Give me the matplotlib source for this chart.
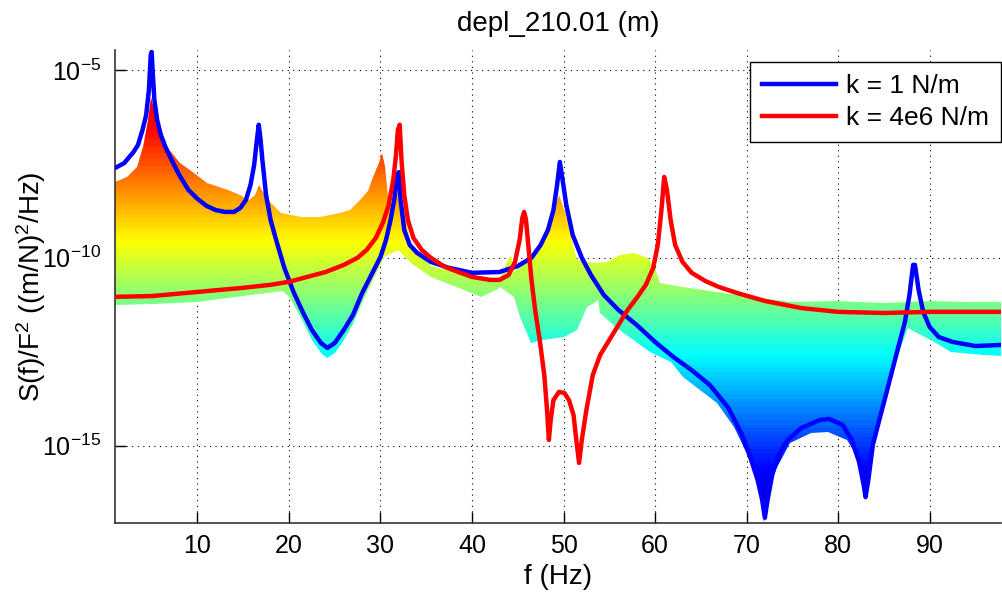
import numpy as np
import matplotlib
matplotlib.use('Agg')
import matplotlib.pyplot as plt
from matplotlib.patches import Polygon
from matplotlib.colors import Normalize, LinearSegmentedColormap

plt.rcParams['font.family'] = ['Liberation Sans', 'DejaVu Sans']
plt.rcParams['mathtext.fontset'] = 'custom'
plt.rcParams['mathtext.rm'] = 'Liberation Sans'
plt.rcParams['mathtext.it'] = 'Liberation Sans:italic'

# k = 1 N/m  (frequency in Hz, log10 of S/F^2)
blue_f = [1.0, 2.0, 3.0, 3.5, 4.0, 4.4, 4.7, 4.9, 5.0, 5.1, 5.3, 5.6, 6.0, 6.5, 7.0, 8.0,
          9.0, 10.0, 11.0, 12.0, 13.0, 14.0, 14.7, 15.3, 15.8, 16.2, 16.5, 16.7, 16.9,
          17.1, 17.5, 18.0, 18.7, 19.5, 20.5, 21.5, 22.5, 23.5, 24.2, 25.0, 26.0, 27.0,
          28.0, 29.0, 30.0, 30.6, 31.1, 31.5, 31.8, 32.0, 32.2, 32.6, 33.2, 34.0, 35.5,
          37.5, 40.0, 43.0, 45.0, 46.5, 47.5, 48.3, 48.9, 49.3, 49.6, 49.9, 50.3, 51.0,
          52.0, 53.0, 54.4, 56.0, 58.0, 60.0, 62.0, 64.0, 66.0, 68.0, 69.5, 70.5, 71.2,
          71.7, 72.0, 72.3, 72.8, 73.5, 74.5, 76.0, 78.0, 79.0, 80.5, 81.5, 82.3, 82.8,
          83.0, 83.3, 83.8, 84.5, 85.5, 86.5, 87.3, 87.8, 88.2, 88.4, 88.8, 89.3, 90.0,
          91.0, 92.5, 95.0, 97.8]
blue_exp = [-7.61, -7.48, -7.19, -7.00, -6.60, -6.20, -5.53, -4.60, -4.52, -5.00, -5.80,
            -6.33, -6.73, -7.05, -7.31, -7.79, -8.19, -8.43, -8.62, -8.73, -8.78, -8.78,
            -8.67, -8.46, -8.06, -7.53, -6.86, -6.46, -6.86, -7.40, -8.33, -9.00, -9.61,
            -10.27, -10.91, -11.44, -11.92, -12.27, -12.40, -12.27, -11.92, -11.52,
            -10.94, -10.46, -9.98, -9.53, -9.00, -8.46, -7.80, -7.72, -8.46, -9.26, -9.66,
            -9.87, -10.11, -10.27, -10.40, -10.38, -10.22, -10.00, -9.66, -9.26, -8.73,
            -8.06, -7.45, -7.93, -8.59, -9.39, -10.00, -10.46, -10.99, -11.39, -11.79,
            -12.24, -12.64, -12.99, -13.39, -13.99, -14.71, -15.38, -15.91, -16.44,
            -16.92, -16.44, -15.78, -15.25, -14.85, -14.53, -14.32, -14.29, -14.45,
            -14.85, -15.44, -16.05, -16.37, -15.92, -14.98, -14.32, -13.39, -12.45,
            -11.71, -10.99, -10.19, -10.19, -10.86, -11.44, -11.84, -12.11, -12.24,
            -12.35, -12.32]

# k = 4e6 N/m
red_f = [1.0, 5.0, 10.0, 15.0, 18.0, 20.0, 22.0, 24.0, 26.0, 27.5, 28.5, 29.5, 30.3, 30.9,
         31.4, 31.7, 31.9, 32.1, 32.3, 32.6, 33.0, 33.6, 34.5, 35.5, 37.0, 38.5, 40.0,
         42.0, 43.0, 44.0, 44.7, 45.2, 45.5, 45.7, 45.9, 46.2, 46.5, 46.9, 47.4, 47.9,
         48.2, 48.4, 48.6, 48.9, 49.5, 50.1, 50.6, 51.1, 51.4, 51.7, 52.0, 52.5, 53.2,
         54.0, 55.0, 56.0, 57.0, 58.0, 59.0, 59.8, 60.3, 60.7, 61.0, 61.3, 61.7, 62.2,
         63.0, 64.0, 65.5, 67.0, 69.0, 72.0, 76.0, 80.0, 85.0, 90.0, 97.8]
red_exp = [-11.04, -11.02, -10.91, -10.80, -10.72, -10.64, -10.51, -10.38, -10.19, -10.00,
           -9.79, -9.47, -9.05, -8.59, -7.93, -7.26, -6.60, -6.46, -7.40, -8.33, -9.00,
           -9.47, -9.79, -10.00, -10.24, -10.38, -10.51, -10.59, -10.59, -10.46, -10.11,
           -9.53, -8.94, -8.78, -8.99, -9.79, -10.59, -11.39, -12.19, -13.12, -14.05,
           -14.85, -14.32, -13.79, -13.57, -13.60, -13.79, -14.19, -14.85, -15.46,
           -14.85, -14.05, -13.12, -12.59, -12.19, -11.79, -11.39, -11.07, -10.72,
           -10.27, -9.66, -8.73, -7.85, -8.19, -8.99, -9.66, -10.11, -10.40, -10.62,
           -10.78, -10.94, -11.15, -11.34, -11.44, -11.47, -11.44, -11.44]

# envelope of the intermediate stiffness values
upper_f = [1.0, 2.3, 3.4, 4.1, 4.6, 4.9, 5.2, 5.6, 6.2, 6.7, 7.5, 8.1, 9.6, 11.0, 12.0,
           13.3, 14.7, 15.6, 16.3, 16.7, 17.2, 18.0, 19.1, 21.3, 23.4, 25.6, 26.7, 27.8,
           28.6, 29.2, 29.8, 30.2, 30.5, 30.9, 31.4, 31.9, 32.3, 33.3, 35.5, 38.0, 41.0,
           43.1, 44.0, 44.3, 44.6, 45.5, 47.0, 48.5, 49.5, 50.3, 51.0, 51.5, 53.3, 54.8,
           56.2, 57.7, 59.2, 60.0, 60.5, 63.1, 66.8, 71.5, 75.0, 80.0, 85.0, 90.0, 94.0,
           97.8]
upper_exp = [-7.98, -7.85, -7.58, -7.05, -6.33, -5.72, -5.93, -6.25, -6.73, -7.05, -7.31,
             -7.48, -7.74, -8.01, -8.09, -8.19, -8.33, -8.46, -8.33, -8.06, -8.25, -8.54,
             -8.81, -8.91, -8.91, -8.81, -8.73, -8.46, -8.22, -7.85, -7.47, -7.21, -7.55,
             -8.65, -8.46, -7.74, -8.46, -9.66, -10.22, -10.38, -10.51, -10.54, -10.01,
             -9.93, -10.38, -10.19, -9.79, -9.13, -8.33, -8.86, -9.66, -10.06, -10.14,
             -10.11, -9.93, -9.87, -10.01, -10.27, -10.67, -10.78, -10.91, -11.07, -11.18,
             -11.15, -11.20, -11.15, -11.18, -11.18]
lower_f = [1.0, 5.0, 10.0, 15.0, 19.4, 20.0, 20.5, 21.5, 22.5, 23.5, 24.2, 25.0, 26.0,
           27.0, 28.0, 29.0, 30.0, 30.4, 31.9, 33.3, 35.5, 39.1, 41.0, 42.8, 43.1, 44.6,
           45.3, 46.4, 47.8, 50.0, 51.5, 52.6, 53.3, 53.8, 54.0, 55.9, 59.5, 61.7, 63.1,
           66.8, 68.6, 70.4, 71.5, 71.9, 72.3, 73.0, 74.8, 77.0, 78.9, 81.0, 82.5, 83.0,
           83.6, 85.2, 86.6, 87.6, 88.6, 90.1, 92.3, 95.9, 97.8]
lower_exp = [-11.26, -11.23, -11.18, -11.02, -10.88, -11.04, -11.26, -11.71, -12.19,
             -12.53, -12.67, -12.53, -12.19, -11.76, -11.20, -10.70, -10.22, -9.98, -9.79,
             -10.14, -10.51, -10.86, -11.04, -10.83, -10.78, -11.04, -11.58, -12.27,
             -12.19, -12.11, -11.92, -11.31, -11.20, -11.12, -11.47, -11.90, -12.51,
             -12.77, -13.17, -13.87, -14.50, -15.38, -16.18, -17.03, -16.45, -15.73,
             -14.93, -14.66, -14.64, -14.85, -15.46, -16.45, -15.25, -13.84, -12.59,
             -11.87, -12.00, -12.19, -12.51, -12.59, -12.61]

xmin, xmax = 1.0, 97.8
ymin_exp, ymax_exp = -17.06, -4.47

# colour levels of the fill (log10 value -> colour), jet-like
level_exp = [-17.06, -15.65, -12.6, -11.1, -9.55, -6.5, -4.47]
level_col = [(0, 0, 0.85), (0, 0, 1), (0, 1, 1), (0.5, 1, 0.5), (1, 1, 0), (1, 0, 0), (0.8, 0, 0)]
pos = [(e - ymin_exp) / (ymax_exp - ymin_exp) for e in level_exp]
cmap = LinearSegmentedColormap.from_list('fill', list(zip(pos, level_col)), N=110)

fig = plt.figure(figsize=(10.03, 5.96), dpi=100)
ax = fig.add_axes([0.1147, 0.1225, 0.8833, 0.7936])
ax.set_yscale('log')

edges = np.linspace(ymin_exp, ymax_exp, 400)
centers = 0.5 * (edges[1:] + edges[:-1])
mesh = ax.pcolormesh([xmin, xmax], 10.0 ** edges, centers[:, None], cmap=cmap,
                     norm=Normalize(ymin_exp, ymax_exp), shading='flat', zorder=1,
                     rasterized=True)
verts = list(zip(upper_f, 10.0 ** np.array(upper_exp))) + \
        list(zip(lower_f[::-1], 10.0 ** np.array(lower_exp[::-1])))
env = Polygon(verts, closed=True, facecolor='none', edgecolor='none',
              transform=ax.transData)
ax.add_patch(env)
mesh.set_clip_path(env)

ax.plot(blue_f, 10.0 ** np.array(blue_exp), color=(0, 0, 1), lw=3.2, label='k = 1 N/m', zorder=3)
ax.plot(red_f, 10.0 ** np.array(red_exp), color=(1, 0, 0), lw=3.2, label='k = 4e6 N/m', zorder=3)

ax.set_xlim(xmin, xmax)
ax.set_ylim(10 ** ymin_exp, 10 ** ymax_exp)
ax.set_xticks(np.arange(10, 100, 10))
ax.set_yticks([1e-15, 1e-10, 1e-5])
ax.yaxis.set_minor_locator(matplotlib.ticker.NullLocator())
ax.tick_params(direction='in', length=8, width=1, labelsize=18, colors='black')
ax.tick_params(axis='x', pad=8)
ax.tick_params(axis='y', pad=10)
ax.grid(True, linestyle=(0, (1, 4)), color='black', lw=0.8)
ax.set_axisbelow(True)
for side in ['top', 'right']:
    ax.spines[side].set_visible(False)
for side in ['left', 'bottom']:
    ax.spines[side].set_color('#333333')
    ax.spines[side].set_linewidth(1.2)

ax.set_title('depl_210.01 (m)', fontsize=20, pad=14)
ax.set_xlabel('f (Hz)', fontsize=20, labelpad=4)
ax.set_ylabel('S(f)/F$^2$ ((m/N)$^2$/Hz)', fontsize=20, labelpad=-4)

leg = ax.legend(loc='upper right', bbox_to_anchor=(1.0, 1 - 12 / 473), borderaxespad=0,
                fontsize=19, handlelength=2.8, fancybox=False, framealpha=1,
                edgecolor='black', borderpad=0.45, labelspacing=0.3, handletextpad=0.4)
leg.get_frame().set_linewidth(1.0)

fig.savefig('out.png', dpi=100)
